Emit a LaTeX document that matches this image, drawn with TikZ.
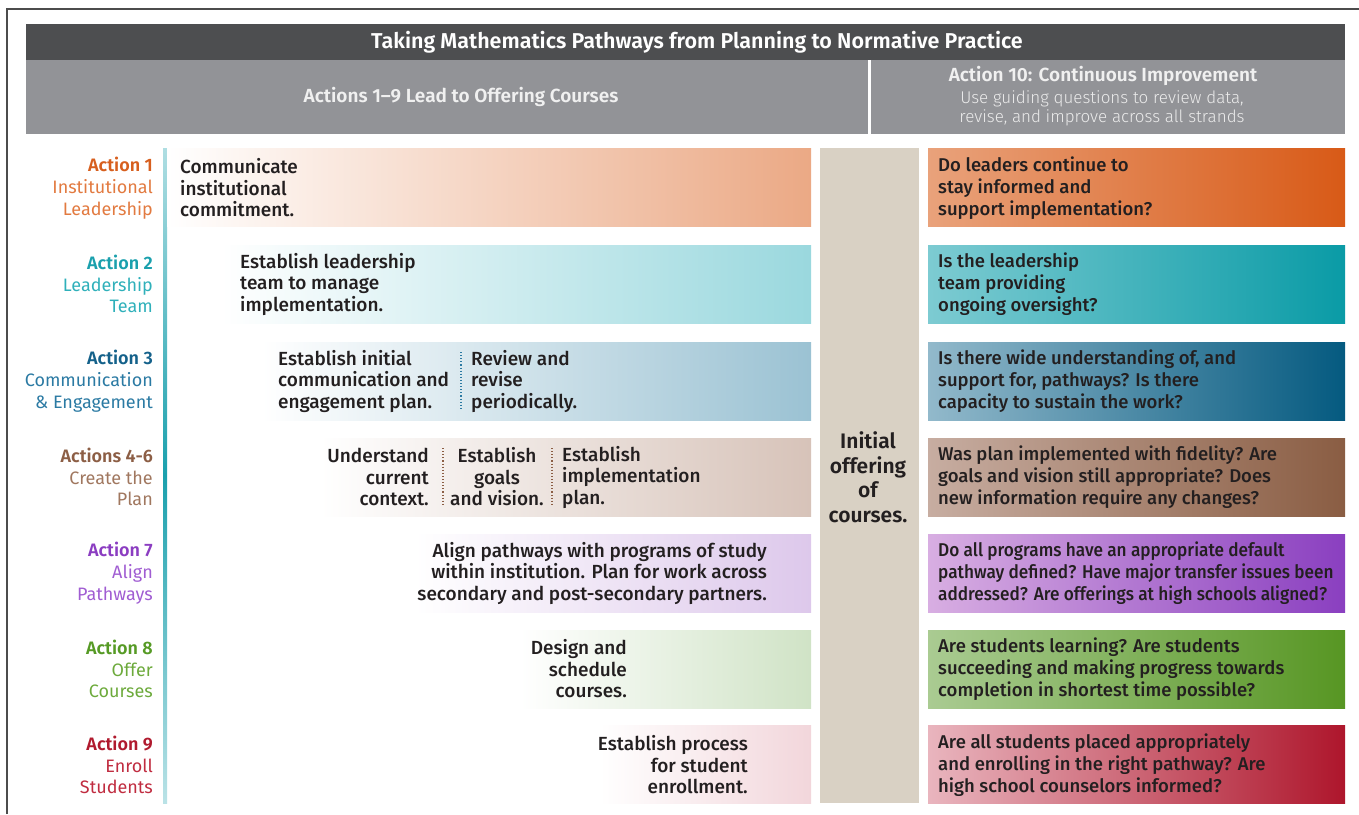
\documentclass[tikz,border=0pt]{standalone}
\usepackage{fontspec}
\setmainfont{Fira Sans}[BoldFont={* SemiBold}]
\newfontfamily\medfont{Fira Sans Medium}
\newfontfamily\narrowfont{Fira Sans Medium}[FakeStretch=0.93]
\newfontfamily\headbold{Fira Sans SemiBold}
\newfontfamily\headlite{Fira Sans Light}

\definecolor{ink}{HTML}{231F20}
\definecolor{titlegray}{HTML}{4D4E50}
\definecolor{headgray}{HTML}{929397}
\definecolor{middlecol}{HTML}{D9D1C4}
% label colours
\definecolor{aone}{HTML}{D75F1E}   \definecolor{aonel}{HTML}{E27A40}
\definecolor{atwo}{HTML}{1AA0AD}   \definecolor{atwol}{HTML}{2FB0BA}
\definecolor{athree}{HTML}{14618A} \definecolor{athreel}{HTML}{2B7AA3}
\definecolor{afour}{HTML}{8C5E45}  \definecolor{afourl}{HTML}{A0775F}
\definecolor{aseven}{HTML}{8B3DC1} \definecolor{asevenl}{HTML}{A05DD2}
\definecolor{aeight}{HTML}{569A25} \definecolor{aeightl}{HTML}{6DAA3C}
\definecolor{anine}{HTML}{B01A2E}  \definecolor{aninel}{HTML}{C02C40}
% bar colours
\definecolor{lone}{HTML}{EBA985}   \definecolor{qonea}{HTML}{E9A27B}   \definecolor{qoneb}{HTML}{D85A17}
\definecolor{ltwo}{HTML}{9AD8DE}   \definecolor{qtwoa}{HTML}{7DCBD2}   \definecolor{qtwob}{HTML}{0A9BA6}
\definecolor{lthree}{HTML}{9BC2D3} \definecolor{qthreea}{HTML}{92B9CB} \definecolor{qthreeb}{HTML}{055A80}
\definecolor{lfour}{HTML}{D7C3B9}  \definecolor{qfoura}{HTML}{C7ADA1}  \definecolor{qfourb}{HTML}{8A5D43}
\definecolor{lseven}{HTML}{DDC8EB} \definecolor{qsevena}{HTML}{D8AEE2} \definecolor{qsevenb}{HTML}{8A3FC0}
\definecolor{leight}{HTML}{D0E3C6} \definecolor{qeighta}{HTML}{AACB92} \definecolor{qeightb}{HTML}{579623}
\definecolor{lnine}{HTML}{F2D6DB}  \definecolor{qninea}{HTML}{E9B5BE}  \definecolor{qnineb}{HTML}{AE162C}

\begin{document}
\begin{tikzpicture}[x=1pt,y=-1pt,
  lbl/.style={anchor=east,align=right,inner sep=0pt,font=\fontsize{18}{21.7}\selectfont},
  act/.style={inner sep=0pt,text=ink,font=\medfont\fontsize{19}{21.5}\selectfont},
  ques/.style={anchor=west,align=left,inner sep=0pt,text=ink,font=\medfont\fontsize{18.5}{21.8}\selectfont},
  head/.style={inner sep=0pt,text=white,font=\headbold\fontsize{19}{22}\selectfont},
  sep/.style={dotted,line width=1.1pt}]
\useasboundingbox (0,0) rectangle (1359,814);
\draw[black!70,line width=1.5pt] (7,814) -- (7,9) -- (1359,9);

% header
\fill[titlegray] (26,24) rectangle (1345,60);
\fill[headgray] (26,60) rectangle (1345,134);
\fill[white] (868,60) rectangle (871,134);
\node[head,font=\headbold\fontsize{21.5}{22}\selectfont] (title) at (697,42) {Taking Mathematics Pathways from Planning to Normative Practice};
\node[head,text=white!94!black] (lefthead) at (461,97) {Actions 1–9 Lead to Offering Courses};
\node[head,text=white!94!black] (righthead) at (1103,76) {Action 10: Continuous Improvement};
\node[inner sep=0pt,align=center,text=white!92!black,font=\headlite\fontsize{17}{19}\selectfont] (rightsub) at (1102,108)
  {Use guiding questions to review data,\\revise, and improve across all strands};

% teal rule and middle column
\shade[top color=atwo!35,bottom color=atwo!30,middle color=atwo] (163,148) rectangle (167,803);
\fill[middlecol] (820,148) rectangle (919,803);
\node[inner sep=0pt,align=center,text=ink,font=\bfseries\fontsize{21}{24.5}\selectfont] (offer) at (868,477)
  {Initial\\offering\\of\\courses.};

% left bars
\shade[left color=white,right color=lone] (167,148) rectangle (811,226);
\shade[left color=white,right color=ltwo] (222,245) rectangle (811,323);
\shade[left color=white,right color=lthree] (262,342) rectangle (811,420);
\shade[left color=white,right color=lfour] (320,438) rectangle (811,516);
\shade[left color=white,right color=lseven] (415,534) rectangle (811,612);
\shade[left color=white,right color=leight] (520,630) rectangle (811,708);
\shade[left color=white,right color=lnine] (600,725) rectangle (811,803);

% right bars
\shade[left color=qonea,right color=qoneb] (928,148) rectangle (1345,226);
\shade[left color=qtwoa,right color=qtwob] (928,245) rectangle (1345,323);
\shade[left color=qthreea,right color=qthreeb] (928,342) rectangle (1345,420);
\shade[left color=qfoura,right color=qfourb] (928,438) rectangle (1345,516);
\shade[left color=qsevena,right color=qsevenb] (928,534) rectangle (1345,612);
\shade[left color=qeighta,right color=qeightb] (928,630) rectangle (1345,708);
\shade[left color=qninea,right color=qnineb] (928,725) rectangle (1345,803);

% labels
\node[lbl,text=aonel] (lab1) at (153,188) {\textcolor{aone}{\bfseries Action 1}\\Institutional\\Leadership};
\node[lbl,text=atwol] (lab2) at (153,284) {\textcolor{atwo}{\bfseries Action 2}\\Leadership\\Team};
\node[lbl,text=athreel] (lab3) at (153,381) {\textcolor{athree}{\bfseries Action 3}\\Communication\\\& Engagement};
\node[lbl,text=afourl] (lab4) at (153,477) {\textcolor{afour}{\bfseries Actions 4-6}\\Create the\\Plan};
\node[lbl,text=asevenl] (lab7) at (153,573) {\textcolor{aseven}{\bfseries Action 7}\\Align\\Pathways};
\node[lbl,text=aeightl] (lab8) at (153,669) {\textcolor{aeight}{\bfseries Action 8}\\Offer\\Courses};
\node[lbl,text=aninel] (lab9) at (153,765) {\textcolor{anine}{\bfseries Action 9}\\Enroll\\Students};

% actions
\node[act,anchor=west,align=left] (act1) at (180,188) {Communicate\\institutional\\commitment.};
\node[act,anchor=west,align=left] (act2) at (240,284) {Establish leadership\\team to manage\\implementation.};
\node[act,anchor=west,align=left] (act3a) at (278,381) {Establish initial\\communication and\\engagement plan.};
\draw[sep,athreel] (461,352) -- (461,409);
\node[act,anchor=west,align=left] (act3b) at (471,381) {Review and\\revise\\periodically.};
\node[act,anchor=east,align=right] (act4a) at (429,477) {Understand\\current\\context.};
\draw[sep,afour] (443,448) -- (443,506);
\node[act,align=center] (act4b) at (497,477) {Establish\\goals\\and vision.};
\draw[sep,afour] (552,448) -- (552,506);
\node[act,anchor=west,align=left] (act4c) at (562,477) {Establish\\implementation\\plan.};
\node[act,anchor=east,align=right] (act7) at (767,573) {Align pathways with programs of study\\within institution. Plan for work across\\secondary and post-secondary partners.};
\node[act,anchor=east,align=right] (act8) at (627,669) {Design and\\schedule\\courses.};
\node[act,anchor=east,align=right] (act9) at (748,765) {Establish process\\for student\\enrollment.};

% guiding questions
\node[ques] (q1) at (938,188) {Do leaders continue to\\stay informed and\\support implementation?};
\node[ques] (q2) at (938,284) {Is the leadership\\team providing\\ongoing oversight?};
\node[ques] (q3) at (938,381) {Is there wide understanding of, and\\support for, pathways? Is there\\capacity to sustain the work?};
\node[ques] (q4) at (938,477) {Was plan implemented with fidelity? Are\\goals and vision still appropriate? Does\\new information require any changes?};
\node[ques,font=\narrowfont\fontsize{18.5}{21.8}\selectfont] (q7) at (938,573) {Do all programs have an appropriate default\\pathway defined? Have major transfer issues been\\addressed? Are offerings at high schools aligned?};
\node[ques] (q8) at (938,669) {Are students learning? Are students\\succeeding and making progress towards\\completion in shortest time possible?};
\node[ques] (q9) at (938,765) {Are all students placed appropriately\\and enrolling in the right pathway? Are\\high school counselors informed?};
\end{tikzpicture}
\end{document}
